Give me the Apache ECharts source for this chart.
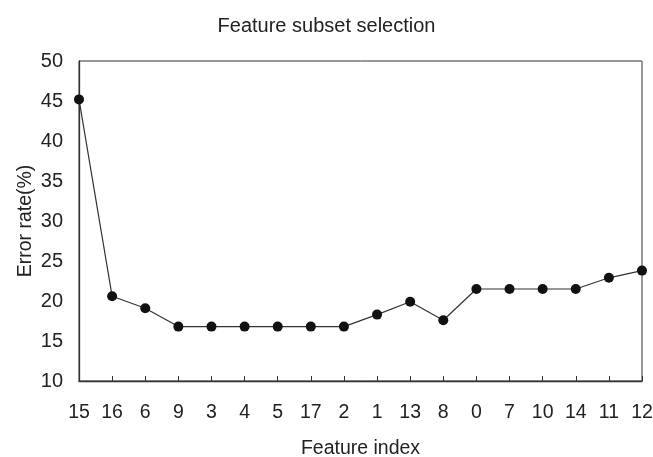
<!DOCTYPE html>
<html><head><meta charset="utf-8">
<script src="https://cdn.jsdelivr.net/npm/echarts@6/dist/echarts.min.js"></script>
<style>html,body{margin:0;padding:0;background:#fff}#c{width:653px;height:457px}</style>
</head><body><div id="c"></div>
<script>
var categories = ['15','16','6','9','3','4','5','17','2','1','13','8','0','7','10','14','11','12'];
var errorRate = [45.2, 20.6, 19.1, 16.8, 16.8, 16.8, 16.8, 16.8, 16.8, 18.3, 19.9, 17.6, 21.5, 21.5, 21.5, 21.5, 22.9, 23.8];
var yMin = 10, yMax = 50, yStep = 5;
var FONT = '"Liberation Sans", Arial, Helvetica, sans-serif';
var chart = echarts.init(document.getElementById('c'), null, {renderer:'canvas'});
chart.setOption({
  animation: false,
  backgroundColor: '#fff',
  title: {
    text: 'Feature subset selection', left: 'center', top: 11,
    textStyle: {fontFamily: FONT, fontSize: 20, fontWeight: 'normal', color: '#222'}
  },
  grid: {left: 79, right: 11, top: 61, bottom: 76, show: true, borderColor: '#333', borderWidth: 1,
         containLabel: false, outerBoundsMode: 'none'},
  xAxis: {
    type: 'category', data: categories, boundaryGap: false,
    name: 'Feature index', nameLocation: 'middle', nameGap: 58, nameMoveOverlap: false,
    nameTextStyle: {fontFamily: FONT, fontSize: 19.5, color: '#222'},
    axisLine: {lineStyle: {color: '#333', width: 1.3}},
    axisTick: {show: true, inside: true, length: 5, alignWithLabel: true, lineStyle: {color: '#333'}},
    axisLabel: {fontFamily: FONT, fontSize: 19.5, color: '#222', margin: 22, interval: 0},
    splitLine: {show: false}
  },
  yAxis: {
    type: 'value', min: yMin, max: yMax, interval: yStep,
    name: 'Error rate(%)', nameLocation: 'middle', nameGap: 43, nameMoveOverlap: false,
    nameTextStyle: {fontFamily: FONT, fontSize: 19.5, color: '#222'},
    axisLine: {show: true, lineStyle: {color: '#333', width: 1.3}},
    axisTick: {show: false},
    axisLabel: {fontFamily: FONT, fontSize: 20, color: '#222', margin: 16},
    splitLine: {show: false}
  },
  series: [{
    type: 'line', data: errorRate,
    symbol: 'circle', symbolSize: 10,
    lineStyle: {color: '#333', width: 1.2},
    itemStyle: {color: '#111'}
  }]
});
</script></body></html>
